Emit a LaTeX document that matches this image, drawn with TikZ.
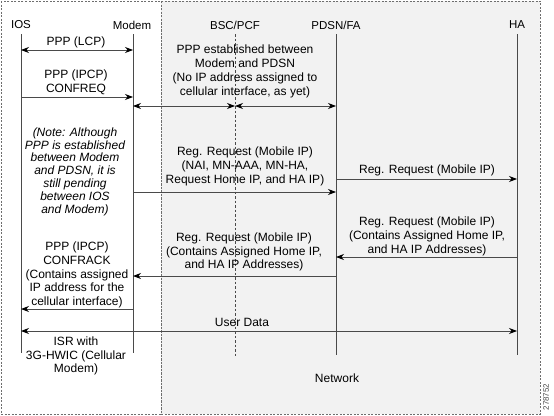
\documentclass[tikz,border=0pt]{standalone}
\usepackage{fontspec}
\setmainfont{Liberation Sans}
\usetikzlibrary{arrows.meta,positioning,calc}
\definecolor{sqLine}{HTML}{4A4A4A}
\definecolor{sqFrame}{HTML}{6E6E6E}
\definecolor{sqNet}{HTML}{F2F2F2}
\tikzset{
  head/.style={font=\fontsize{11.5}{13.5}\selectfont, inner sep=0pt},
  lbl/.style={font=\fontsize{12}{13.8}\selectfont, align=center, inner sep=0pt},
  notetext/.style={lbl, font=\fontsize{12}{12.8}\selectfont\itshape},
  lifeline/.style={draw=sqLine, line width=0.8pt},
  bscline/.style={lifeline, dash pattern=on 2.5pt off 2pt, line width=0.6pt},
  msg/.style={-{Stealth[length=8pt,width=6pt,color=black]}, line width=0.8pt, sqLine},
  dmsg/.style={{Stealth[length=8pt,width=6pt,color=black]}-{Stealth[length=8pt,width=6pt,color=black]}, line width=0.8pt, sqLine},
  zone/.style={draw=sqFrame, dash pattern=on 2pt off 1.5pt, line width=0.6pt}
}

\begin{document}
\begin{tikzpicture}[x=1pt, y=-1pt]
  \useasboundingbox (0,0) rectangle (554,415);
  % zones
  \draw[zone, fill=sqNet] (161,1) rectangle (540,414);
  \draw[zone] (1,1) rectangle (161,414);

  % heads
  \node[head] (ios) at (21,25) {IOS};
  \node[head] (modem) at (132,25) {Modem};
  \node[head] (bsc) at (235,25) {BSC/PCF};
  \node[head] (pdsn) at (336,25) {PDSN/FA};
  \node[head] (ha) at (517,25) {HA};

  \coordinate (iosB) at (21,353);
  \coordinate (modemB) at (133,353);
  \coordinate (bscB) at (235,357);
  \coordinate (pdsnB) at (336,355);
  \coordinate (haB) at (517,355);

  \draw[lifeline] (ios |- 0,34) -- (iosB);
  \draw[lifeline] (modemB |- 0,34) -- (modemB);
  \draw[bscline] (bsc |- 0,34) -- (bscB);
  \draw[lifeline] (pdsn |- 0,34) -- (pdsnB);
  \draw[lifeline] (ha |- 0,34) -- (haB);

  % messages
  \node[lbl] (lcp) at (76,42) {PPP (LCP)};
  \draw[dmsg] (ios |- 0,50) -- (modemB |- 0,50);

  \node[lbl] (confreq) at (76,82) {PPP (IPCP)\\CONFREQ};
  \draw[msg] (ios |- 0,97) -- (modemB |- 0,97);

  \node[lbl] (pppest) at (245,71.5) {PPP established between\\Modem and PDSN\\(No IP address assigned to\\cellular interface, as yet)};
  \draw[dmsg] (modemB |- 0,106) -- (bsc |- 0,106);
  \draw[dmsg] (bsc |- 0,106) -- (pdsn |- 0,106);

  \node[notetext] (note) at (75,171.5) {(Note: Although\\PPP is established\\between Modem\\and PDSN, it is\\still pending\\between IOS\\and Modem)};

  \node[lbl] (regA) at (245,166.5) {Reg. Request (Mobile IP)\\(NAI, MN-AAA, MN-HA,\\Request Home IP, and HA IP)};
  \draw[msg] (modemB |- 0,192) -- (pdsn |- 0,192);

  \node[lbl] (regB) at (427,170) {Reg. Request (Mobile IP)};
  \draw[msg] (pdsn |- 0,179) -- (ha |- 0,179);

  \node[lbl] (regC) at (427,236.5) {Reg. Request (Mobile IP)\\(Contains Assigned Home IP,\\and HA IP Addresses)};
  \draw[msg] (ha |- 0,257) -- (pdsn |- 0,257);

  \node[lbl] (regD) at (244,252) {Reg. Request (Mobile IP)\\(Contains Assigned Home IP,\\and HA IP Addresses)};
  \draw[msg] (pdsn |- 0,276) -- (modemB |- 0,276);

  \node[lbl] (confrack) at (77,275) {PPP (IPCP)\\CONFRACK\\(Contains assigned\\IP address for the\\cellular interface)};
  \draw[msg] (modemB |- 0,309) -- (ios |- 0,309);

  \node[lbl] (udata) at (242,322) {User Data};
  \draw[dmsg] (ios |- 0,331) -- (ha |- 0,331);

  \node[lbl] (isr) at (76,356) {ISR with\\3G-HWIC (Cellular\\Modem)};
  \node[lbl] (net) at (337,378) {Network};
  \node[lbl, font=\fontsize{8}{8}\selectfont, rotate=90, text=sqLine] (fig) at (546,397) {278752};
\end{tikzpicture}
\end{document}
